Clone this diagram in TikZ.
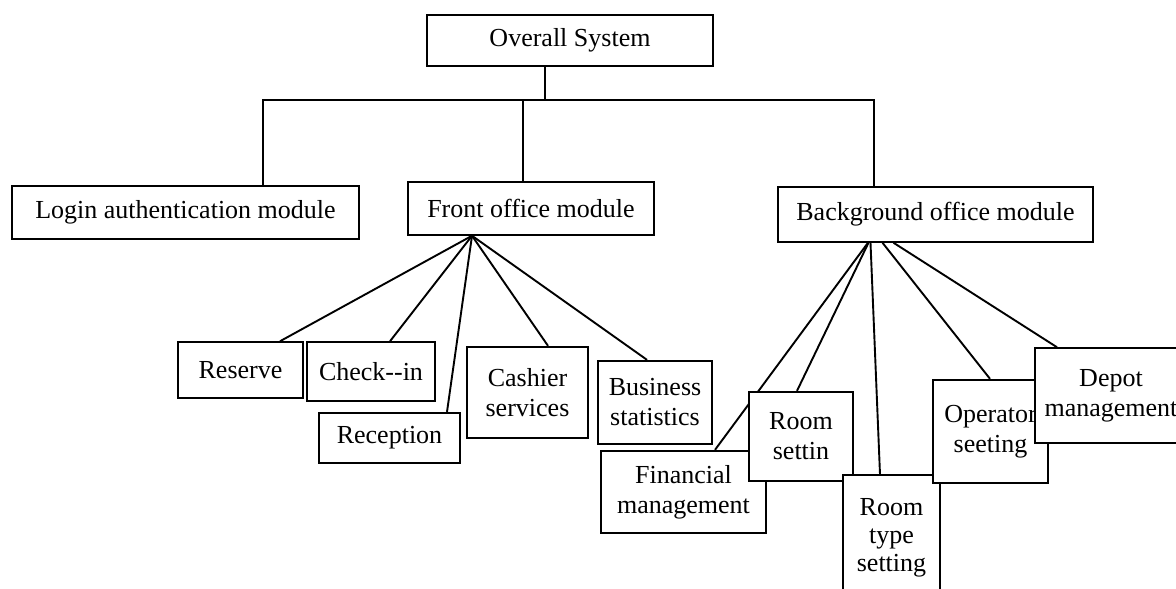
\documentclass[tikz,border=0pt]{standalone}
\usepackage{fontspec}
\setmainfont{Liberation Serif}
\pgfdeclarelayer{bg}
\pgfsetlayers{bg,main}
\begin{document}
\begin{tikzpicture}[x=1pt,y=-1pt,
  box/.style={draw, fill=white, line width=1.5pt, rectangle, inner sep=0pt,
    align=center, font=\fontsize{26}{30}\selectfont},
  heavybox/.style={box, line width=2.3pt},
  link/.style={line width=1.9pt}]
\useasboundingbox (0,0) rectangle (1176,589);
\clip (0,0) rectangle (1176,589);

% ---- top level ----
\node[box, minimum width=286pt, minimum height=51pt] (top) at (570,40.5) {Overall System};
\node[box, minimum width=347pt, minimum height=53pt] (login) at (185.5,212.5) {Login authentication module};
\node[box, minimum width=246pt, minimum height=53pt] (front) at (531,208.5) {Front office module};
\node[box, minimum width=315pt, minimum height=55pt] (back) at (935.5,214.5) {Background office module};

% ---- front office children ----
\node[box, minimum width=125pt, minimum height=56pt] (reserve) at (240.5,370) {Reserve};
\node[box, minimum width=128pt, minimum height=59pt] (checkin) at (371,371.5) {Check-{}-in};
\node[heavybox, minimum width=141pt, minimum height=50pt] (reception) at (389.5,438) {Reception};
\node[heavybox, minimum width=121pt, minimum height=91pt] (cashier) at (527.5,392.5) {Cashier\\services};
\node[heavybox, minimum width=114pt, minimum height=83pt] (business) at (655,402.5) {Business\\statistics};

% ---- background office children (later ones overlap earlier ones) ----
\node[heavybox, minimum width=165pt, minimum height=82pt] (financial) at (683.5,492) {Financial\\management};
\node[heavybox, minimum width=104pt, minimum height=89pt] (roomset) at (801,436.5) {Room\\settin};
\node[box, minimum width=97pt, minimum height=125pt, font=\fontsize{26}{28}\selectfont] (roomtype) at (891.5,537.5) {Room\\type\\setting};
\node[heavybox, minimum width=115pt, minimum height=103pt] (operator) at (990.5,431.5) {Operator\\seeting};
\node[box, minimum width=152pt, minimum height=95pt] (depot) at (1111,395.5) {Depot\\management};

% ---- connectors, kept behind the boxes ----
\begin{pgfonlayer}{bg}
  \coordinate (j) at (545,100);
  \coordinate (jl) at (263,100);
  \coordinate (jf) at (523,100);
  \coordinate (jb) at (874,100);
  \draw[link] (j |- top.south) -- (j);
  \draw[link] (jl |- login.north) -- (jl) -- (jb) -- (jb |- back.north);
  \draw[link] (jf) -- (jf |- front.north);

  \coordinate (fo) at ([xshift=-59pt]front.south);
  \draw[link] (fo) -- ([xshift=39.5pt]reserve.north);
  \draw[link] (fo) -- ([xshift=19pt]checkin.north);
  \draw[link] (fo) -- ([xshift=57.5pt]reception.north);
  \draw[link] (fo) -- ([xshift=20.5pt]cashier.north);
  \draw[link] (fo) -- ([xshift=-8pt]business.north);

  \draw[link] ([xshift=-67.5pt]back.south) -- ([xshift=31.5pt]financial.north);
  \draw[link] ([xshift=-67pt]back.south) -- ([xshift=-4pt]roomset.north);
  \draw[link] ([xshift=-65pt]back.south) -- ([xshift=-11.5pt]roomtype.north);
  \draw[link] ([xshift=-53pt]back.south) -- ([xshift=-0.5pt]operator.north);
  \draw[link] ([xshift=-42pt]back.south) -- ([xshift=-54pt]depot.north);
\end{pgfonlayer}
\end{tikzpicture}
\end{document}
